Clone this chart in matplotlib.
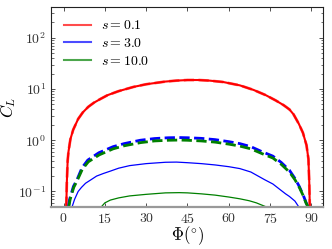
import matplotlib
matplotlib.use("Agg")
import matplotlib.pyplot as plt

plt.rcParams['mathtext.fontset'] = 'cm'
plt.rcParams['font.family'] = 'serif'
plt.rcParams['font.serif'] = ['cmr10', 'DejaVu Serif']
plt.rcParams['axes.formatter.use_mathtext'] = True

# s = 0.1 (solid and dashed overlap)
phi_r = [1.0, 1.2, 1.5, 1.8, 2.5, 3.5, 5.3, 7, 9, 11, 13.4, 16, 20, 25.4, 30, 37, 41, 45, 49,
         53, 58, 64, 69, 73.4, 77, 80, 82, 83.5, 85.4, 86.9, 88.2, 88.9, 89.2, 89.4]
cl_r = [0.05, 0.15, 0.4, 0.6, 1.05, 1.6, 2.6, 3.5, 4.5, 5.4, 6.4, 7.6, 9.1, 11.0, 12.4, 14.0, 14.6, 15.0, 15.0,
        14.6, 13.7, 11.8, 9.6, 7.6, 6.0, 4.8, 4.0, 3.2, 2.1, 1.4, 0.8, 0.43, 0.15, 0.05]

# s = 3.0 dashed
phi_bd = [1.8, 2.2, 3.6, 4.9, 6.7, 8.8, 12.8, 18, 22, 27.8, 33, 38, 42, 45, 50, 55, 60, 64, 68,
          72, 76, 79, 82, 84, 85.6, 87, 88, 88.7]
cl_bd = [0.05, 0.07, 0.126, 0.17, 0.29, 0.41, 0.57, 0.75, 0.86, 1.0, 1.08, 1.12, 1.13, 1.12, 1.09, 1.03, 0.94, 0.86, 0.75,
         0.6, 0.49, 0.37, 0.26, 0.18, 0.125, 0.085, 0.062, 0.05]

# s = 10.0 dashed
phi_gd = [1.9, 2.4, 3.7, 5.0, 6.8, 9, 13, 18, 22, 28, 33, 38, 42, 45, 50, 55, 60, 64, 68,
          72, 76, 79, 82, 84, 85.6, 87, 88, 88.8]
cl_gd = [0.05, 0.07, 0.12, 0.165, 0.27, 0.38, 0.52, 0.68, 0.78, 0.9, 0.97, 1.0, 1.01, 1.0, 0.97, 0.92, 0.84, 0.77, 0.68,
         0.55, 0.45, 0.34, 0.24, 0.17, 0.12, 0.083, 0.06, 0.05]

# s = 3.0 solid
phi_bs = [3.1, 4, 5.3, 6.5, 8, 10, 12, 14.5, 17, 20, 24, 30, 37, 41, 45, 50, 55, 60, 64, 68,
          73, 76, 78.5, 80.6, 82, 84, 85.4]
cl_bs = [0.05, 0.07, 0.1, 0.12, 0.145, 0.17, 0.2, 0.225, 0.25, 0.285, 0.32, 0.35, 0.372, 0.375, 0.365, 0.35, 0.33, 0.305, 0.28, 0.24,
         0.17, 0.14, 0.11, 0.09, 0.08, 0.065, 0.05]

# s = 10.0 solid
phi_gs = [13.7, 15, 17, 20, 24, 30, 37, 42, 45, 50, 55, 60, 64, 67.4, 70, 73.6]
cl_gs = [0.05, 0.06, 0.068, 0.075, 0.082, 0.088, 0.094, 0.095, 0.094, 0.09, 0.085, 0.078, 0.072, 0.066, 0.06, 0.05]

labels = ['$s = 0.1$', '$s = 3.0$', '$s = 10.0$']
xticks = [0, 15, 30, 45, 60, 75, 90]

fig = plt.figure(figsize=(3.32, 2.49), dpi=100)
ax = fig.add_axes([0.154, 0.169, 0.819, 0.803])

l1, = ax.plot(phi_r, cl_r, color='red', lw=1.5)
ax.plot(phi_r, cl_r, color='red', lw=2.0, ls='--', alpha=0.6)
l2, = ax.plot(phi_bs, cl_bs, color='blue', lw=0.9)
l3, = ax.plot(phi_gs, cl_gs, color='green', lw=0.9)
ax.plot(phi_bd, cl_bd, color='blue', lw=2.0, ls='--')
ax.plot(phi_gd, cl_gd, color='green', lw=2.0, ls='--')

ax.set_yscale('log')
ax.set_ylim(0.05, 400)
ax.set_xlim(-4.5, 94.2)
ax.set_xticks(xticks)
ax.set_xticklabels(['$%d$' % t for t in xticks])

ax.tick_params(which='both', direction='in', top=True, right=True, labelsize=10, colors='#333333')
ax.tick_params(which='major', length=3, width=0.6)
ax.tick_params(which='minor', length=1.8, width=0.5)
for s in ['top', 'left', 'right']:
    ax.spines[s].set_linewidth(0.8)
    ax.spines[s].set_color('#222222')
ax.spines['bottom'].set_color('#999999')
ax.spines['bottom'].set_linewidth(1.6)

ax.set_xlabel(r'$\Phi(^{\circ})$', fontsize=12, labelpad=-1)
ax.set_ylabel(r'$C_L$', fontsize=12)
ax.yaxis.set_label_coords(-0.12, 0.5)

leg = ax.legend([l1, l2, l3], labels, loc='upper left', frameon=False, fontsize=10,
                handlelength=2.0, handletextpad=0.7, labelspacing=0.35)
for h in leg.legend_handles:
    h.set_alpha(0.7)
    h.set_linewidth(1.5)

fig.savefig('out.png', dpi=100)
